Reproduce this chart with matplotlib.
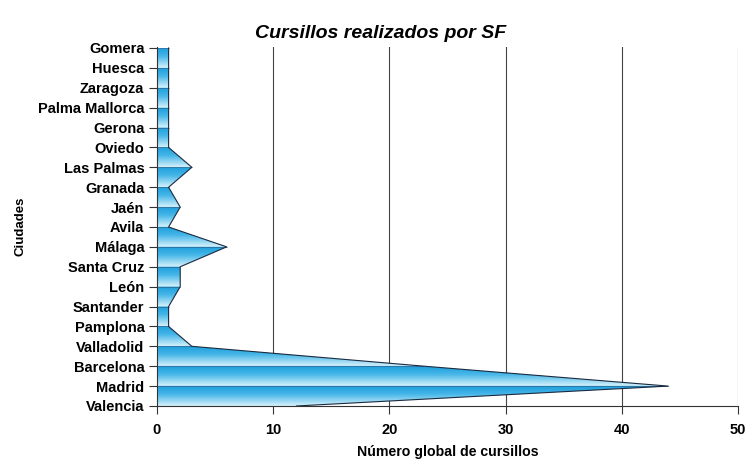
import numpy as np
import matplotlib.pyplot as plt
from matplotlib.colors import LinearSegmentedColormap

plt.rcParams['font.family'] = ['Liberation Sans', 'DejaVu Sans']

# courses per city, listed bottom to top
ciudades = ['Valencia', 'Madrid', 'Barcelona', 'Valladolid', 'Pamplona',
            'Santander', 'León', 'Santa Cruz', 'Málaga', 'Avila', 'Jaén',
            'Granada', 'Las Palmas', 'Oviedo', 'Gerona', 'Palma Mallorca',
            'Zaragoza', 'Huesca', 'Gomera']
cursillos = [12, 44, 23, 3, 1, 1, 2, 2, 6, 1, 2, 1, 3, 1, 1, 1, 1, 1, 1]
xticks = [0, 10, 20, 30, 40, 50]

pos = np.arange(len(ciudades))

fig = plt.figure(figsize=(7.5, 4.59), dpi=100)
ax = fig.add_axes([0.2093, 0.1155, 0.7747, 0.7821])

# vertical grid first so the area sits on top of it
for t in xticks[1:]:
    ax.axvline(t, color='#444444', lw=0.8, zorder=0)

# filled area with a banded blue gradient clipped to it
poly = ax.fill_betweenx(pos, 0, cursillos, facecolor='none',
                        edgecolor='none', zorder=1)
cmap = LinearSegmentedColormap.from_list(
    'banda', [(0.0, '#d8f2fb'), (0.25, '#9ad9f3'), (0.6, '#45b6e8'),
              (1.0, '#1f9fdc')])
yy = np.linspace(0, len(ciudades) - 1, 2000)
frac = yy - np.floor(yy)
img = ax.imshow(frac[:, None], cmap=cmap, aspect='auto', origin='lower',
                extent=[0, 50, 0, len(ciudades) - 1], zorder=1,
                interpolation='bilinear')
img.set_clip_path(poly.get_paths()[0], transform=ax.transData)

ax.hlines(pos, 0, cursillos, color='#2a6f9c', lw=0.6, zorder=2)
ax.plot(cursillos, pos, color='#1a2a40', lw=0.8, zorder=3)

ax.set_xlim(0, 50)
ax.set_ylim(0, len(ciudades) - 1 + 0.05)
ax.set_yticks(pos)
ax.set_yticklabels(ciudades, fontsize=10.5, fontweight='bold')
ax.set_xticks(xticks)
ax.set_xticklabels([str(t) for t in xticks], fontsize=10.5, fontweight='bold')
ax.tick_params(axis='both', direction='out', length=6, width=0.8,
               color='#333333')
ax.tick_params(axis='x', pad=6)
ax.tick_params(axis='y', pad=3)

for s in ['top', 'right']:
    ax.spines[s].set_visible(False)
ax.spines['left'].set_color('#333333')
ax.spines['bottom'].set_color('#333333')
ax.spines['left'].set_linewidth(0.8)
ax.spines['bottom'].set_linewidth(0.8)

ax.set_xlabel('Número global de cursillos', fontsize=10.2, fontweight='bold',
              labelpad=6)
ax.set_ylabel('Ciudades', fontsize=9.5, fontweight='bold', labelpad=8)
fig.text(0.508, 0.918, 'Cursillos realizados por SF', ha='center',
         fontsize=14, fontweight='bold', fontstyle='italic')

fig.savefig('out.png', dpi=100)
